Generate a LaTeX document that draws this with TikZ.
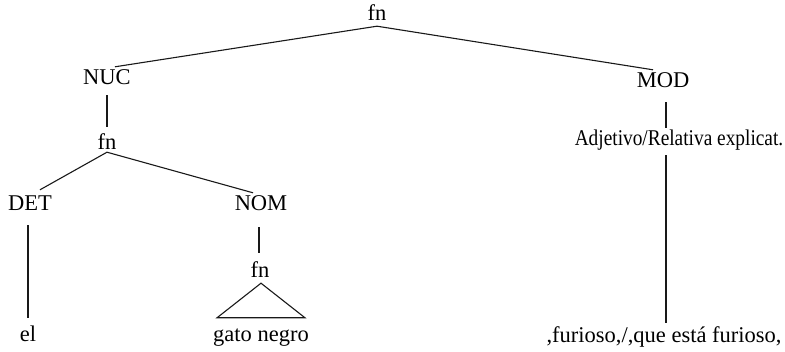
\documentclass[tikz,border=0pt]{standalone}
\usepackage{fontspec}
\setmainfont{Liberation Serif}
\begin{document}
\begin{tikzpicture}[x=1pt,y=-1pt,
  lbl/.style={anchor=base,inner sep=0pt,text height=15pt,text depth=5pt,
    font=\fontsize{22.5}{26}\selectfont},
  edge/.style={line width=1.1pt,black!90}]
\useasboundingbox (0,0) rectangle (785,352);
% constituents
\node[lbl] (fn1) at (377,21) {fn};
\node[lbl] (NUC) at (107,85) {NUC};
\node[lbl] (fn2) at (107,150) {fn};
\node[lbl] (DET) at (30,211) {DET};
\node[lbl] (NOM) at (261,211) {NOM};
\node[lbl] (fn3) at (260,278) {fn};
\node[lbl] (el) at (28,342) {el};
\node[lbl] (gato) at (261,342) {gato negro};
\node[lbl] (MOD) at (663,88) {MOD};
\node[lbl] (adj) at (679,146) {\scalebox{0.86}[1]{Adjetivo/Relativa explicat.}};
\node[lbl] (fur) at (664,343) {,furioso,/,que está furioso,};
% branches
\draw[edge] (fn1.south) -- ([xshift=8pt,yshift=3pt]NUC.north);
\draw[edge] (fn1.south) -- ([xshift=-10pt,yshift=3pt]MOD.north);
\draw[edge,shorten <=5pt,shorten >=8pt] (NUC.south) -- (fn2.north);
\draw[edge] ([yshift=3pt]fn2.south) -- ([xshift=10pt,yshift=6pt]DET.north);
\draw[edge] ([yshift=3pt]fn2.south) -- ([xshift=-8pt,yshift=3pt]NOM.north);
\draw[edge,shorten <=9pt,shorten >=9pt] (el.north |- DET.south) -- (el.north);
\draw[edge,shorten <=11pt,shorten >=10pt] ([xshift=-2pt]NOM.south) -- ([xshift=-1pt]fn3.north);
\draw[edge,line join=miter] ([xshift=1pt]fn3.south) -- ([xshift=-44pt,yshift=9pt]gato.north)
  -- ([xshift=44pt,yshift=9pt]gato.north) -- cycle;
\draw[edge,shorten <=9pt,shorten >=3pt] ([xshift=3pt]MOD.south) -- ([xshift=2pt]fur.north |- adj.north);
\draw[edge,shorten <=4pt,shorten >=5pt] ([xshift=2pt]fur.north |- adj.south) -- ([xshift=2pt]fur.north);
\end{tikzpicture}
\end{document}
